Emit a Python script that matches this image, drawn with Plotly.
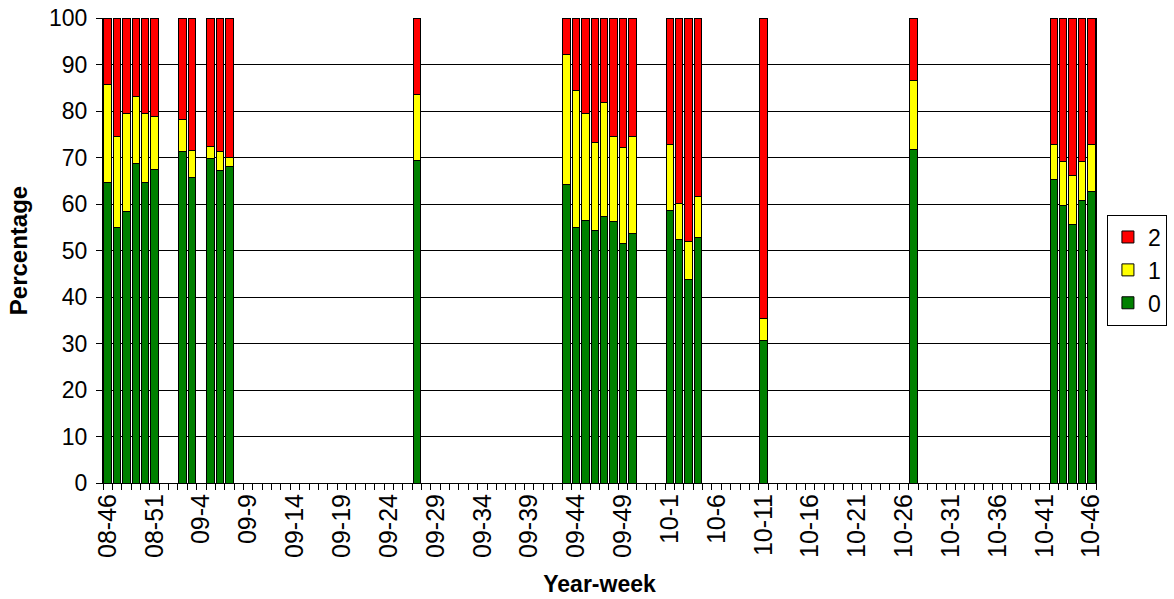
import plotly.graph_objects as go

# ---- categories (year-week) ----
weeks_2008 = list(range(46, 53))
weeks_2009 = list(range(1, 54))
weeks_2010 = list(range(1, 47))
categories = ([f"08-{w}" for w in weeks_2008] +
              [f"09-{w}" for w in weeks_2009] +
              [f"10-{w}" for w in weeks_2010])

# ---- observed weeks and percentages ----
obs_weeks = ["08-46", "08-47", "08-48", "08-49", "08-50", "08-51",
             "09-2", "09-3", "09-5", "09-6", "09-7",
             "09-27",
             "09-43", "09-44", "09-45", "09-46", "09-47", "09-48", "09-49", "09-50",
             "10-1", "10-2", "10-3", "10-4",
             "10-11",
             "10-27",
             "10-42", "10-43", "10-44", "10-45", "10-46"]
pct_0 = [64.7, 54.9, 58.3, 68.8, 64.7, 67.4,
         71.2, 65.6, 69.8, 67.1, 68.1,
         69.4,
         64.2, 54.9, 56.5, 54.3, 57.3, 56.2, 51.4, 53.7,
         58.5, 52.3, 43.7, 52.9,
         30.6,
         71.8,
         65.3, 59.6, 55.5, 60.8, 62.6]
pct_1 = [21.1, 19.6, 21.2, 14.3, 14.8, 11.5,
         6.9, 5.9, 2.6, 4.1, 2.0,
         14.2,
         27.9, 29.6, 23.0, 18.9, 24.6, 18.3, 20.7, 20.8,
         14.4, 7.9, 8.2, 8.8,
         4.7,
         14.8,
         7.6, 9.5, 10.7, 8.3, 10.3]
pct_2 = [14.2, 25.5, 20.5, 16.9, 20.5, 21.1,
         21.9, 28.5, 27.6, 28.8, 29.9,
         16.4,
         7.9, 15.5, 20.5, 26.8, 18.1, 25.5, 27.9, 25.5,
         27.1, 39.8, 48.1, 38.3,
         64.7,
         13.4,
         27.1, 30.9, 33.8, 30.9, 27.1]

series_names = ["0", "1", "2"]
series_colors = ["#008000", "#FFFF00", "#FF0000"]
series_values = [pct_0, pct_1, pct_2]

tick_text = [c if i % 5 == 0 else "" for i, c in enumerate(categories)]

FONT = "Arial, Liberation Sans, sans-serif"

fig = go.Figure()
for name, color, vals in zip(series_names, series_colors, series_values):
    fig.add_trace(go.Bar(
        x=obs_weeks, y=vals, name=name,
        marker=dict(color=color, line=dict(color="black", width=1)),
    ))

fig.update_layout(
    width=1174, height=599,
    barmode="stack", bargap=0.2,
    plot_bgcolor="white", paper_bgcolor="white",
    margin=dict(l=103, r=78, t=18, b=116, autoexpand=False),
    font=dict(family=FONT, size=20, color="black"),
    legend=dict(
        x=1.011, xanchor="left", y=0.458, yanchor="middle",
        traceorder="reversed",
        bordercolor="black", borderwidth=1,
        font=dict(size=23, family=FONT, color="black"),
        itemwidth=30,
    ),
    showlegend=True,
)

fig.update_xaxes(
    type="category", automargin=False,
    categoryorder="array", categoryarray=categories,
    range=[-0.5, len(categories) - 0.5],
    tickmode="array", tickvals=categories, ticktext=tick_text,
    tickson="boundaries", ticks="outside", ticklen=6, tickcolor="black",
    tickangle=-90, ticklabeloverflow="allow",
    tickfont=dict(size=25, family=FONT, color="black"),
    showgrid=False, showline=True, linecolor="black", linewidth=1,
    title=dict(text="<b>Year-week</b>", font=dict(size=23, family=FONT, color="black"),
               standoff=18),
)

fig.update_yaxes(
    range=[0, 100], dtick=10, tick0=0, automargin=False,
    ticks="outside", ticklen=6, tickcolor="black",
    ticklabeloverflow="allow", ticklabelstandoff=4,
    tickfont=dict(size=23, family=FONT, color="black"),
    showgrid=True, gridcolor="black", gridwidth=1,
    showline=True, linecolor="black", linewidth=1, mirror=True,
    zeroline=False,
    title=dict(text="<b>Percentage</b>", font=dict(size=24, family=FONT, color="black"),
               standoff=14),
)

fig.write_html("out.html", config={"displayModeBar": False},
               post_script="document.body.style.margin='0';")
